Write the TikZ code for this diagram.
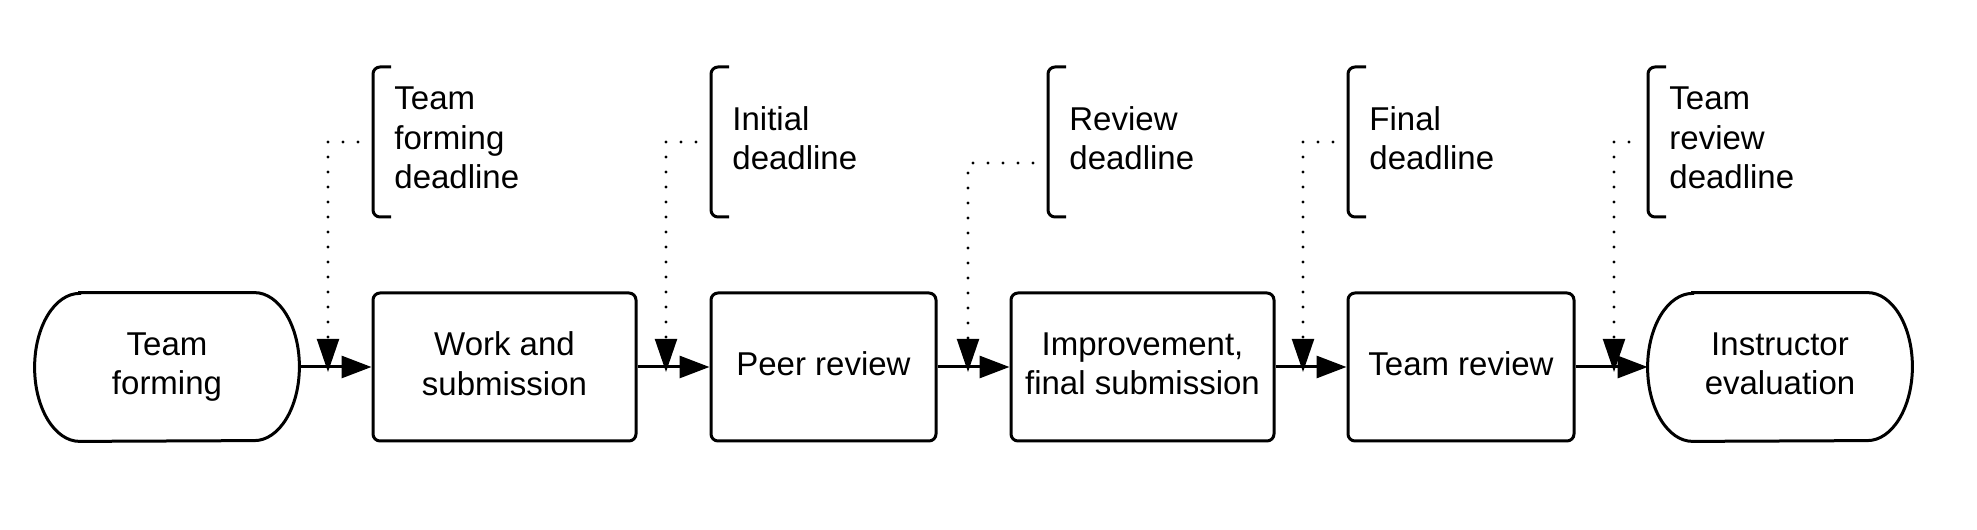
\documentclass[tikz,border=0pt]{standalone}
\usepackage{fontspec}
\setmainfont{Liberation Sans}
\usetikzlibrary{arrows.meta}
\newcommand\drawterminal[1]{%
  \draw[termline] ([xshift=22.5pt]#1.north west) -- ([xshift=-22.5pt]#1.north east)
    arc[start angle=90, end angle=-90, x radius=22.5pt, y radius=37pt]
    -- ([xshift=22.5pt]#1.south west)
    arc[start angle=270, end angle=90, x radius=22.5pt, y radius=37pt] -- cycle;}
\newcommand\drawbracket[1]{%
  \draw[brack] (#1+18,463) -- (#1,463) -- (#1,313) -- (#1+18,313);}
\begin{document}
\begin{tikzpicture}[x=0.5pt,y=0.5pt,
  every node/.style={font=\fontsize{16.5}{19.75}\selectfont},
  procbox/.style={draw, line width=1.5pt, rounded corners=3.5pt, minimum height=74pt, align=center, inner sep=0pt, text depth=3.5pt},
  termbox/.style={minimum width=132pt, minimum height=74pt, align=center, inner sep=0pt, text depth=3.5pt},
  termline/.style={line width=1.5pt},
  brack/.style={line width=1.5pt, rounded corners=3.5pt},
  note/.style={anchor=west, align=left, inner sep=0pt},
  flow/.style={line width=1.5pt, -{Triangle[length=15pt,width=11pt]}},
  dotline/.style={line width=1.6pt, line cap=round, dash pattern=on 0pt off 7.5pt, -{Triangle[length=16.5pt,width=11pt,line width=1pt]}},
]
\useasboundingbox (0,0) rectangle (1977,530);

% main process nodes
\node[termbox] (t1) at (167,163) {Team\\forming};
\node[procbox, minimum width=131.5pt] (b2) at (504.5,163) {Work and\\submission};
\node[procbox, minimum width=112.5pt] (b3) at (823.5,163) {Peer review};
\node[procbox, minimum width=131.5pt] (b4) at (1142.5,163) {Improvement,\\final submission};
\node[procbox, minimum width=113pt] (b5) at (1461,163) {Team review};
\node[termbox] (t6) at (1780,163) {Instructor\\evaluation};
\drawterminal{t1}
\drawterminal{t6}

% deadline annotations
\drawbracket{373}
\drawbracket{711}
\drawbracket{1048}
\drawbracket{1348}
\drawbracket{1648}
\node[note] (n1) at (394,392) {Team\\forming\\deadline};
\node[note] (n2) at (732,392) {Initial\\deadline};
\node[note] (n3) at (1069,392) {Review\\deadline};
\node[note] (n4) at (1369,392) {Final\\deadline};
\node[note] (n5) at (1669,392) {Team\\review\\deadline};

\coordinate (k1) at (358,388);  \coordinate (d1) at (328,158);
\coordinate (k2) at (696,388);  \coordinate (d2) at (666,158);
\coordinate (k3) at (1033,367); \coordinate (d3) at (968,158);
\coordinate (k4) at (1333,388); \coordinate (d4) at (1303,158);
\coordinate (k5) at (1629,388); \coordinate (d5) at (1614,158);

% flow connectors
\draw[flow] (t1) -- (b2);
\draw[flow] (b2) -- (b3);
\draw[flow] (b3) -- (b4);
\draw[flow] (b4) -- (b5);
\draw[flow] (b5) -- (t6);

% dotted deadline connectors
\draw[dotline] (k1) -| (d1);
\draw[dotline] (k2) -| (d2);
\draw[dotline] (k3) -| (d3);
\draw[dotline] (k4) -| (d4);
\draw[dotline] (k5) -| (d5);
\end{tikzpicture}
\end{document}
